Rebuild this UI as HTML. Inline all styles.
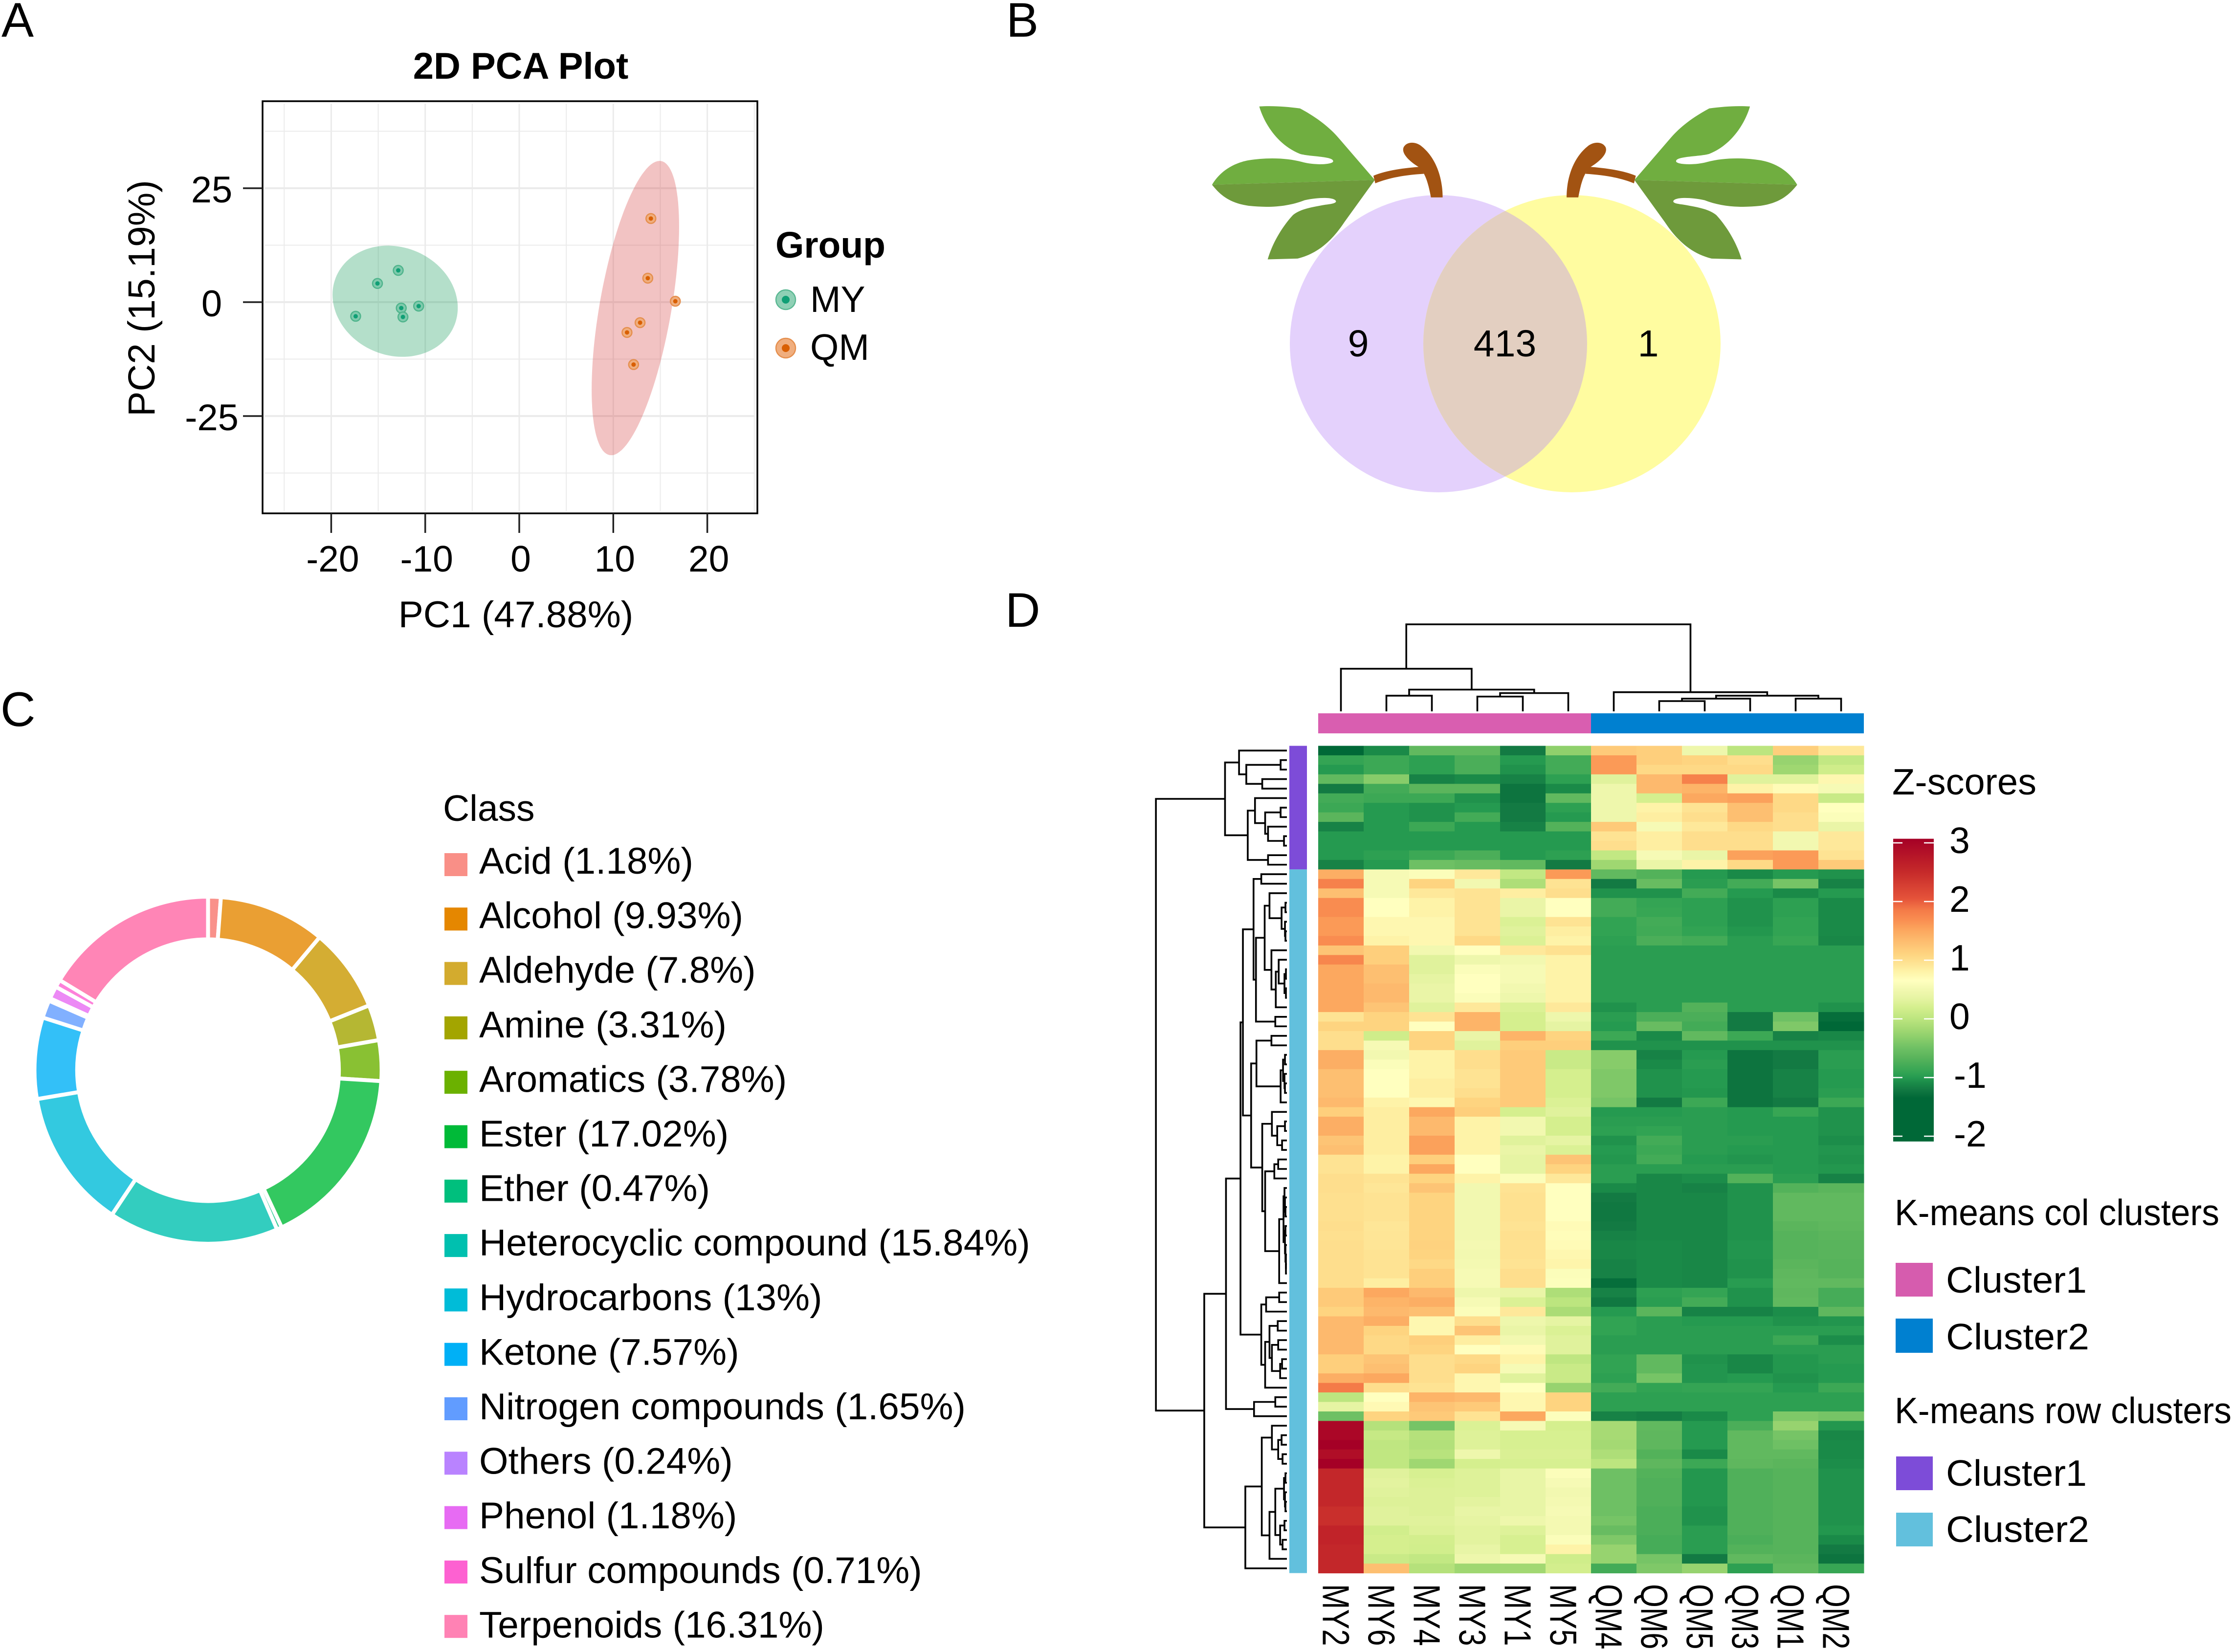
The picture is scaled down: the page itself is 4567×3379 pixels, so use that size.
<!DOCTYPE html>
<html lang="en">
<head>
<meta charset="utf-8">
<title>Metabolomics multi-panel figure</title>
<style>
html,body{margin:0;padding:0;background:#fff}
svg{display:block}
text{font-family:"Liberation Sans",sans-serif;fill:#000}
</style>
</head>
<body>
<svg id="fig" xmlns="http://www.w3.org/2000/svg" width="4567" height="3379" viewBox="0 0 4567 3379">
<rect width="4567" height="3379" fill="#fff"/>
<text x="3" y="75" font-size="99">A</text>
<text x="2058" y="75" font-size="99">B</text>
<text x="1" y="1485" font-size="99">C</text>
<text x="2056" y="1282" font-size="99">D</text>

<g id="pca">
  <text x="1065" y="161" font-size="76" font-weight="700" text-anchor="middle">2D PCA Plot</text>
  <text x="1055" y="1283" font-size="76.5" text-anchor="middle">PC1 (47.88%)</text>
  <text transform="translate(316,610) rotate(-90)" font-size="77" text-anchor="middle">PC2 (15.19%)</text>
  <text x="1586" y="527" font-size="75" font-weight="700">Group</text>
  <text x="1657" y="638" font-size="75">MY</text>
  <text x="1657" y="736" font-size="75">QM</text>
</g>

<g id="venn">
  <defs><clipPath id="venn-clip"><circle cx="2942" cy="703" r="304"/></clipPath></defs>
  <circle cx="2942" cy="703" r="304" fill="#e4d1fc"/>
  <circle cx="3215" cy="703" r="304" fill="#fffca0"/>
  <circle cx="3215" cy="703" r="304" fill="#e3cfc1" clip-path="url(#venn-clip)"/>
  <g transform="translate(2300,150) scale(0.95667,0.57398)">
    <g id="leaf-left">
      <path d="M655,442 C650,400 645,360 630,335 C610,315 590,285 597,262 C605,240 625,245 635,260 C665,300 680,370 680,442 Z" fill="#a25312"/>
      <path d="M532,365 C560,345 600,337 632,333 L640,358 C600,362 565,372 536,392 Z" fill="#a25312"/>
      <path d="M535,380 L460,235 C445,205 420,165 375,125 C345,118 315,115 288,118 C295,160 320,250 375,287 C395,297 446,295 446,313 C446,326 405,328 380,316 C345,300 300,300 265,310 C225,322 200,360 187,397 Z" fill="#70ae40"/>
      <path d="M187,397 L535,380 L470,530 C450,580 420,640 370,660 L306,663 C315,610 335,550 360,505 C375,485 395,478 430,468 C445,465 452,462 452,456 C450,442 420,440 385,452 C350,475 310,480 265,472 C225,462 205,435 187,397 Z" fill="#6e9a3b"/>
    </g>
    <g id="leaf-right" transform="translate(1625,0) scale(-1,1)">
      <path d="M655,442 C650,400 645,360 630,335 C610,315 590,285 597,262 C605,240 625,245 635,260 C665,300 680,370 680,442 Z" fill="#a25312"/>
      <path d="M532,365 C560,345 600,337 632,333 L640,358 C600,362 565,372 536,392 Z" fill="#a25312"/>
      <path d="M535,380 L460,235 C445,205 420,165 375,125 C345,118 315,115 288,118 C295,160 320,250 375,287 C395,297 446,295 446,313 C446,326 405,328 380,316 C345,300 300,300 265,310 C225,322 200,360 187,397 Z" fill="#70ae40"/>
      <path d="M187,397 L535,380 L470,530 C450,580 420,640 370,660 L306,663 C315,610 335,550 360,505 C375,485 395,478 430,468 C445,465 452,462 452,456 C450,442 420,440 385,452 C350,475 310,480 265,472 C225,462 205,435 187,397 Z" fill="#6e9a3b"/>
    </g>
  </g>
  <text x="2778" y="729" font-size="77" text-anchor="middle">9</text>
  <text x="3078" y="729" font-size="77" text-anchor="middle">413</text>
  <text x="3371" y="729" font-size="77" text-anchor="middle">1</text>
</g>

<g id="donut"></g>
<g id="donut-legend">
  <text x="906" y="1679" font-size="75">Class</text>
</g>

<g id="heat"></g>
<g id="heat-legend">
  <text x="3870" y="1625" font-size="75" textLength="295" lengthAdjust="spacingAndGlyphs">Z-scores</text>
  <text x="3875" y="2506" font-size="75" textLength="664" lengthAdjust="spacingAndGlyphs">K-means col clusters</text>
  <rect x="3877" y="2583" width="76" height="69" fill="#d65cae"/>
  <text x="3980" y="2644" font-size="75" textLength="288" lengthAdjust="spacingAndGlyphs">Cluster1</text>
  <rect x="3877" y="2697" width="76" height="70" fill="#0080d0"/>
  <text x="3980" y="2760" font-size="75" textLength="293" lengthAdjust="spacingAndGlyphs">Cluster2</text>
  <text x="3875" y="2911" font-size="75" textLength="689" lengthAdjust="spacingAndGlyphs">K-means row clusters</text>
  <rect x="3878" y="2979" width="75" height="69" fill="#7d4cd8"/>
  <text x="3980" y="3039" font-size="75" textLength="288" lengthAdjust="spacingAndGlyphs">Cluster1</text>
  <rect x="3878" y="3094" width="75" height="69" fill="#62c0dd"/>
  <text x="3980" y="3154" font-size="75" textLength="293" lengthAdjust="spacingAndGlyphs">Cluster2</text>
</g>
</svg>

<script>
/* ---------- PCA data ---------- */
const pcaTicksX = [-20, -10, 0, 10, 20];
const pcaTicksY = [25, 0, -25];
const pcaGridX = [-25, -20, -15, -10, -5, 0, 5, 10, 15, 20, 25];
const pcaGridY = [37.5, 25, 12.5, 0, -12.5, -25, -37.5];
const myPC1 = [-12.87, -15.08, -17.4, -12.55, -12.37, -10.7];
const myPC2 = [6.97, 4.1, -3.1, -1.3, -3.25, -0.87];
const qmPC1 = [14.0, 13.67, 16.6, 12.85, 11.46, 12.16];
const qmPC2 = [18.35, 5.26, 0.2, -4.5, -6.65, -13.7];
/* ellipse: mean PC1, mean PC2, sd-scale PC1, sd-scale PC2, correlation */
const myEllipse = [-13.2, 0.2, 6.66, 12.2, -0.117];
const qmEllipse = [12.35, -1.3, 4.65, 32.3, 0.553];

/* ---------- Donut data ---------- */
const classNames = ["Acid","Alcohol","Aldehyde","Amine","Aromatics","Ester","Ether","Heterocyclic compound","Hydrocarbons","Ketone","Nitrogen compounds","Others","Phenol","Sulfur compounds","Terpenoids"];
const classPercents = [1.18, 9.93, 7.8, 3.31, 3.78, 17.02, 0.47, 15.84, 13, 7.57, 1.65, 0.24, 1.18, 0.71, 16.31];
const classColors = ["#f8766d","#e58700","#c99800","#a3a500","#6bb100","#00ba38","#00bf7d","#00c0af","#00bcd8","#00b0f6","#619cff","#b983ff","#e76bf3","#fd61d1","#ff67a4"];

/* ---------- Heatmap data ---------- */
const heatCols = ["MY2","MY6","MY4","MY3","MY1","MY5","QM4","QM6","QM5","QM3","QM1","QM2"];
const zTicks = [3, 2, 1, 0, -1, -2];
const zStops = [3.1, 2.5, 2.05, 1.85, 1.7, 1.5, 1.3, 1.1, 0.95, 0.8, 0.65, 0.5, 0.35, 0.2, 0, -0.15, -0.3, -0.5, -0.65, -0.8, -0.92, -1, -1.1, -1.2, -1.35, -2.1];
const zColors = ["#a50026","#c62a2a","#e5533a","#f47b48","#f98c50","#fca85f","#fdbf71","#fed480","#fee393","#fef3a8","#ffffbf","#f2f8b0","#e6f4a3","#d5ef8e","#bce57f","#a7da74","#8fd06c","#6ec064","#5bb55c","#43ab57","#31a353","#259a50","#1a8a48","#137a43","#006837","#006837"];
const heatRowsCluster1 = [
[-1.35,-1.1,-.6,-.6,-1.2,-.3,1.2,1.15,.45,0,1.15,.9],
[-.9,-.85,-.95,-.75,-1,-.8,1.6,1.15,1.1,1,-.25,.05],
[-1,-.85,-.95,-.75,-1.05,-.8,1.6,1.05,1.05,1.05,-.2,.15],
[-.6,-.35,-1.15,-1.1,-1.15,-.95,.3,1.35,1.8,.3,.3,.75],
[-1.2,-.8,-.65,-.65,-1.25,-1.1,.45,1.35,1.4,.8,.7,.55],
[-.8,-.85,-.85,-1.05,-1.25,-.6,.45,.2,1.5,1.55,1.05,.1],
[-.85,-1,-1.05,-1,-1.2,-.95,.45,.8,.95,1.3,1.05,.65],
[-.65,-1,-1.05,-.8,-1.2,-1,.45,.85,1,1.3,1,.6],
[-1.15,-1,-.85,-1,-1.15,-.7,1.2,.55,.9,1.05,1,.4],
[-1,-1,-1,-1,-1,-1,.95,.85,1,1,.5,.9],
[-1,-1,-1,-1,-1,-1,1,.85,1,1,.5,.9],
[-1,-.95,-.85,-.75,-1,-.95,.05,.55,.4,1.55,1.6,.95],
[-1.15,-1,-.5,-.55,-.6,-1.2,-.2,.4,.8,1.05,1.6,1.2]
];
const heatRowsCluster2 = [
[1.45,.55,.6,.9,.05,1.6,-.6,-.7,-1,-1.1,-1,-1.05],
[1.8,.55,1.1,.5,-.1,.95,-1.2,-.55,-.97,-.8,-.45,-1.15],
[1.3,.55,.9,.95,.85,1,-1.05,-1.05,-.8,-1,-1.1,-1],
[1.7,.65,.8,.95,.4,.65,-.8,-.9,-.95,-1.05,-.95,-1.1],
[1.7,.65,.8,.95,.4,.65,-.8,-.88,-.95,-1.05,-.95,-1.1],
[1.6,.75,.75,.95,.25,.95,-.92,-.8,-.95,-1.05,-.92,-1.1],
[1.6,.75,.75,.95,.3,.85,-.92,-.82,-.92,-1.02,-.92,-1.1],
[1.7,.8,.75,1.05,.25,.8,-.95,-.75,-.8,-.97,-.88,-1.12],
[1.25,1.15,.5,.65,.9,.97,-.97,-.97,-.97,-.97,-.97,-.97],
[1.75,1.15,.3,.45,.5,.8,-.97,-.97,-.97,-.97,-.97,-.97],
[1.5,1.3,.3,.6,.55,.8,-.97,-.97,-.97,-.97,-.97,-.97],
[1.5,1.3,.35,.65,.55,.8,-.97,-.97,-.97,-.97,-.97,-.97],
[1.5,1.35,.4,.65,.5,.8,-.97,-.97,-.97,-.97,-.97,-.97],
[1.5,1.35,.4,.6,.45,.8,-.97,-.97,-.97,-.97,-.97,-.97],
[1.5,1.25,.3,.9,.25,.9,-1.05,-.97,-.7,-.97,-.97,-1.05],
[.95,1.1,.95,1.4,.2,.45,-.97,-.75,-.75,-1.2,-.5,-1.3],
[1.1,1.1,.65,1.4,.2,.35,-1,-.55,-.8,-1.2,-.4,-1.38],
[1,.15,1.1,.4,1.4,1.1,-.85,-1.1,-.6,-.85,-1.15,-1.12],
[1,.55,1.1,.3,1.15,1.15,-1.05,-1.05,-1.05,-1.05,-1.05,-1.05],
[1.45,.5,.8,1,1.2,.1,-.35,-1.15,-1,-1.25,-1.2,-.97],
[1.45,.6,.8,1,1.2,.1,-.35,-1.1,-.97,-1.25,-1.2,-.97],
[1.3,.65,.8,.95,1.2,.2,-.4,-1.05,-1,-1.25,-1.15,-1],
[1.3,.65,.85,.95,1.2,.2,-.4,-1.05,-1,-1.25,-1.15,-1],
[1.3,.65,.85,1,1.2,.2,-.4,-1.05,-1.02,-1.25,-1.15,-.97],
[1.35,.8,.75,1.1,1.2,.25,-.45,-1.2,-.85,-1.25,-1.2,-.85],
[1.15,.85,1.5,1.15,.2,.3,-1,-1,-.97,-1,-.88,-1.05],
[1.45,.85,1.35,.8,.5,.2,-.97,-.97,-.97,-1,-1,-1.05],
[1.45,.85,1.35,.8,.5,.2,-.95,-.92,-.97,-1,-1,-1.05],
[1.25,.85,1.55,.8,.3,.35,-1.05,-.8,-.97,-.97,-1,-1.08],
[1.3,.85,1.55,.8,.4,.25,-1,-.85,-.97,-1,-1,-1.03],
[.95,.8,1.15,.65,.35,1.25,-1.02,-.8,-1,-1.03,-1,-1.05],
[.95,.8,1.5,.65,.35,1.1,-.97,-.97,-.97,-.97,-1,-1.02],
[1,.95,1.1,.8,.6,.9,-.97,-1.12,-1.08,-.7,-.97,-1.15],
[1,.92,1.25,.5,.95,.65,-1.1,-1.12,-1.15,-1.05,-.7,-.65],
[.98,.95,1.1,.5,.97,.65,-1.2,-1.12,-1.12,-1.05,-.6,-.6],
[.98,.95,1.1,.5,.97,.65,-1.22,-1.12,-1.12,-1.05,-.6,-.6],
[.98,.95,1.1,.5,.97,.65,-1.22,-1.12,-1.12,-1.05,-.6,-.6],
[1,.92,1.1,.5,.95,.7,-1.2,-1.12,-1.12,-1.05,-.65,-.62],
[.98,.93,1.1,.5,.98,.68,-1.15,-1.12,-1.12,-1.05,-.68,-.65],
[1,.93,1.12,.52,.97,.7,-1.12,-1.1,-1.12,-1.03,-.68,-.66],
[1,.95,1.1,.5,.97,.75,-1.12,-1.1,-1.12,-1.03,-.68,-.66],
[1,.95,1.05,.52,.95,.78,-1.15,-1.1,-1.12,-1.05,-.65,-.68],
[1,.95,1.15,.55,1,.6,-1.15,-1.1,-1.12,-1.05,-.62,-.68],
[1,.85,1.15,.55,1,.62,-1.3,-1.1,-1.12,-.98,-.6,-.6],
[1.2,1.5,1.35,.45,.4,-.1,-1.15,-.95,-.9,-1.05,-.62,-.78],
[1.2,1.4,1.45,.55,.25,0,-1.22,-.97,-.8,-1.05,-.6,-.78],
[1.1,1.35,1.3,.6,.9,-.12,-1,-.65,-1.15,-1.15,-1.08,-.62],
[1.35,1.45,.75,1,.45,.35,-.92,-.97,-1,-1,-1.05,-1.03],
[1.35,1.1,.75,1.25,.4,.25,-.92,-.97,-.97,-.97,-.97,-.97],
[1.35,1.05,1.15,.85,.5,.3,-.97,-.97,-.97,-.97,-.85,-1.08],
[1.35,1.05,1.1,.65,.7,.3,-.97,-.97,-.97,-.97,-.97,-.97],
[1.15,1.25,1,1.05,.8,.02,-.92,-.6,-1.05,-1.12,-1.02,-.97],
[1.15,1.3,1,1.1,.55,.1,-.92,-.6,-1.03,-1.12,-1.02,-1],
[1.45,1.5,1,.75,.3,.1,-.95,-.45,-1.03,-1,-1.05,-1],
[1.85,1,.95,.75,.65,-.25,-.8,-.92,-.9,-.9,-1,-.85],
[0,.65,1.4,1.35,.75,1.1,-.95,-.95,-.95,-.95,-.95,-.95],
[.35,.72,1.25,1.2,.75,1.1,-.95,-.95,-.95,-.95,-.95,-.95],
[-.5,1.1,1.2,.95,1.5,.62,-1.15,-1.18,-1.1,-.95,-.4,-.45],
[3,-.05,-.45,.25,.55,.2,-.15,-.6,-1,-.75,-.25,-1.02],
[3,.08,-.05,.28,.22,.22,-.15,-.62,-1,-.6,-.45,-1.12],
[3.1,.02,-.07,.28,.22,.22,-.17,-.62,-1,-.6,-.5,-1.1],
[2.9,.03,-.03,.45,.24,.24,-.1,-.7,-1.1,-.6,-.6,-1.1],
[3.1,.03,-.2,.2,.22,.22,0,-.62,-.85,-.62,-.65,-1.08],
[2.55,.3,.22,.28,.38,.6,-.5,-.7,-1.02,-.72,-.68,-1.05],
[2.55,.32,.25,.28,.38,.55,-.5,-.72,-1.02,-.72,-.68,-1.05],
[2.55,.3,.27,.28,.38,.5,-.5,-.72,-1.02,-.72,-.68,-1.05],
[2.55,.27,.27,.32,.38,.52,-.5,-.72,-1.02,-.72,-.68,-1.05],
[2.45,.3,.27,.38,.38,.55,-.5,-.75,-1.05,-.72,-.68,-1.05],
[2.45,.3,.3,.35,.45,.52,-.45,-.75,-1.05,-.72,-.68,-1.05],
[2.6,.17,.27,.32,.28,.52,-.55,-.75,-.97,-.72,-.68,-1.02],
[2.6,.2,.18,.32,.22,.6,-.4,-.78,-.97,-.75,-.68,-1.1],
[2.55,.2,.17,.38,.22,.8,-.25,-.78,-.97,-.7,-.68,-1.2],
[2.55,.1,.05,.45,.55,.15,-.25,-.45,-1.2,-.6,-.65,-1.25],
[2.55,1.3,-.05,-.2,-.18,.18,-.8,-.4,-.25,-.95,-.6,-.88]
];
/* merge trees: [height, leftChild, rightChild], 0 = leaf */
const colTree = [1,[.49,0,[.25,[.18,0,0],[.21,[.17,0,0],0]]],[.22,0,[.18,[.146,[.118,0,0],0],[.146,0,0]]]];
const rowTreeCluster1 = [128,[99,0,[84,[13,0,0],[51,0,0]]],[81,[66,0,[45,[13,0,0],[39,0,[6,0,0]]]],[39,0,0]]];
const rowTreeBranchA = [69,[53,0,0],[64,[46,[36,0,[11,[3,0,0],[4,0,[3,0,0]]]],[32,0,[23,[17,0,[5,[2,0,0],[2,0,0]]],0]]],[24,0,0]]];
const rowTreeBranchB = [74,[63,[32,0,0],[13,[8,[4,0,0],[5,0,[4,0,0]]],0]],[51,[31,0,[20,[4,0,0],[10,0,0]]],[45,[26,[18,0,0],0],[16,[7,[5,0,[4,0,[3,0,0]]],[4,[3,0,0],[3,0,[2,0,[2,0,0]]]]],0]]]];
const rowTreeBranchC = [53,[43,[16,0,0],0],[45,[36,[19,0,0],[31,[18,0,0],[14,[10,0,0],0]]],0]];
const rowTreeBranchD = [68,[24,0,0],0];
const rowTreeBranchE = [86,[52,[31,0,[18,[11,0,0],[9,0,0]]],[36,[24,[6,[3,0,0],[4,0,[3,0,0]]],[14,[5,0,0],[9,0,0]]],0]],0];
const rowTree = [271,rowTreeCluster1,[171,[126,[96,[91,rowTreeBranchA,rowTreeBranchB],rowTreeBranchC],rowTreeBranchD],rowTreeBranchE]];

/* ---------- helpers ---------- */
const NS = "http://www.w3.org/2000/svg";
function make(tag, attrs, parent, txt) {
  const n = document.createElementNS(NS, tag);
  for (const k in attrs) n.setAttribute(k, attrs[k]);
  if (txt !== undefined) n.textContent = txt;
  parent.appendChild(n);
  return n;
}
function hexRgb(h) { return [1, 3, 5].map(i => parseInt(h.substr(i, 2), 16)); }
function zColor(v) {
  if (v >= zStops[0]) return zColors[0];
  for (let i = 1; i < zStops.length; i++) {
    if (v >= zStops[i]) {
      const t = (v - zStops[i]) / (zStops[i - 1] - zStops[i]);
      const a = hexRgb(zColors[i]), b = hexRgb(zColors[i - 1]);
      return "rgb(" + a.map((c, j) => Math.round(c + (b[j] - c) * t)).join(",") + ")";
    }
  }
  return zColors[zColors.length - 1];
}

/* ---------- Panel A ---------- */
(function () {
  const g = document.getElementById("pca");
  const L = 537, R = 1549, T = 207, B = 1050;
  const sx = v => 1062 + v * 19.23;
  const sy = v => 618 - v * 9.32;
  pcaGridX.forEach(v => {
    const el = make("line", { x1: sx(v), x2: sx(v), y1: T + 5, y2: B - 5, stroke: "#ebebeb", "stroke-width": pcaTicksX.includes(v) ? 3 : 2 }, g);
    
    
  });
  pcaGridY.forEach(v => {
    const el = make("line", { x1: L + 5, x2: R - 5, y1: sy(v), y2: sy(v), stroke: "#ebebeb", "stroke-width": pcaTicksY.includes(v) ? 4 : 2 }, g);
    
    
  });
  function ellipsePath(p) {
    let d = "";
    const phi = Math.acos(p[4]);
    for (let k = 0; k < 120; k++) {
      const t = k / 120 * 2 * Math.PI;
      const x = p[0] + p[2] * Math.cos(t);
      const y = p[1] + p[3] * Math.cos(t - phi);
      d += (k ? "L" : "M") + sx(x).toFixed(1) + "," + sy(y).toFixed(1);
    }
    return d + "Z";
  }
  const e1 = make("path", { d: ellipsePath(myEllipse), fill: "#1b9e5e", "fill-opacity": .33 }, g);
  
  
  const e2 = make("path", { d: ellipsePath(qmEllipse), fill: "#d84949", "fill-opacity": .33 }, g);
  
  
  function dot(px, py, r, ri, outer, line, inner, name) {
    const o = make("circle", { cx: px, cy: py, r: r, fill: outer, stroke: line, "stroke-width": 2.5 }, g);
    
    
    const c = make("circle", { cx: px, cy: py, r: ri, fill: inner }, g);
    
    
  }
  myPC1.forEach((v, i) => dot(sx(v), sy(myPC2[i]), 10, 4.5, "#7fcaac", "#4fb48c", "#109f75", "my-point"));
  qmPC1.forEach((v, i) => dot(sx(v), sy(qmPC2[i]), 10, 4.5, "#f0ae7e", "#e58f4e", "#d95f02", "qm-point"));
  dot(1607, 613, 20, 8, "#8fd0b5", "#5bb893", "#109f75", "legend-marker-my");
  dot(1607, 712, 20, 8, "#f0ae7e", "#e58f4e", "#d95f02", "legend-marker-qm");
  const box = make("rect", { x: L, y: T, width: R - L, height: B - T, fill: "none", stroke: "#000", "stroke-width": 3.5 }, g);
  
  
  pcaTicksX.forEach(v => {
    const t = make("line", { x1: sx(v), x2: sx(v), y1: B, y2: B + 40, stroke: "#222", "stroke-width": 3.5 }, g);
    
    
    const l = make("text", { x: sx(v) + 3, y: 1169, "font-size": 75, "text-anchor": "middle" }, g, String(v));
    
    
  });
  pcaTicksY.forEach(v => {
    const t = make("line", { x1: L - 40, x2: L, y1: sy(v), y2: sy(v), stroke: "#222", "stroke-width": 3.5 }, g);
    
    
    const l = make("text", { x: 433, y: sy(v) + 29, "font-size": 76, "text-anchor": "middle" }, g, String(v));
    
    
  });
})();

/* ---------- Panel C ---------- */
(function () {
  const g = document.getElementById("donut");
  const lg = document.getElementById("donut-legend");
  const cx = 425.5, cy = 2189, ro = 355, ri = 267.6;
  const total = classPercents.reduce((a, b) => a + b, 0);
  let acc = 0;
  const pt = (r, a) => (cx + r * Math.sin(a)).toFixed(2) + "," + (cy - r * Math.cos(a)).toFixed(2);
  classPercents.forEach((p, i) => {
    const a0 = acc / total * 2 * Math.PI;
    acc += p;
    const a1 = acc / total * 2 * Math.PI;
    const large = a1 - a0 > Math.PI ? 1 : 0;
    const d = "M" + pt(ro, a0) + "A" + ro + "," + ro + " 0 " + large + " 1 " + pt(ro, a1) + "L" + pt(ri, a1) + "A" + ri + "," + ri + " 0 " + large + " 0 " + pt(ri, a0) + "Z";
    const slice = make("path", { d: d, fill: classColors[i], "fill-opacity": .8, stroke: "#fff", "stroke-width": 8 }, g);
    
    
    const light = i === 0 || i === 2 || i === 14;
    const sw = make("rect", { x: 909, y: 1745 + i * 111.3, width: 47, height: 47, fill: classColors[i], "fill-opacity": light ? .82 : 1 }, lg);
    
    
    const t = make("text", { x: 980, y: 1787 + i * 111.6, "font-size": 76.5 }, lg, classNames[i] + " (" + p + "%)");
    
    
  });
})();

/* ---------- Panel D ---------- */
(function () {
  const g = document.getElementById("heat");
  const lg = document.getElementById("heat-legend");
  const rows = heatRowsCluster1.concat(heatRowsCluster2);
  const X0 = 2696, CW = 93, Y0 = 1525.5, RH = (3217.6 - 1525.5) / rows.length;
  rows.forEach((row, r) => {
    row.forEach((v, c) => {
      const cell = make("rect", { x: X0 + c * CW, y: (Y0 + r * RH).toFixed(2), width: CW + .5, height: (RH + .5).toFixed(2), fill: zColor(v) }, g);
      
      
    });
  });
  /* annotation bars */
  const n1 = heatRowsCluster1.length, firstCols = 6;
  const bars = [
    [X0, 1459, firstCols * CW, 41, "#d95eb0", "col-annotation-cluster1"],
    [X0 + firstCols * CW, 1459, (heatCols.length - firstCols) * CW, 41, "#0080d0", "col-annotation-cluster2"],
    [2637, Y0, 36, n1 * RH, "#7d4cd8", "row-annotation-cluster1"],
    [2637, Y0 + n1 * RH, 36, heatRowsCluster2.length * RH, "#62c0dd", "row-annotation-cluster2"]
  ];
  bars.forEach(b => {
    const el = make("rect", { x: b[0], y: b[1], width: b[2], height: b[3], fill: b[4] }, g);
    
    
  });
  /* dendrograms */
  let leaf = 0;
  function drawRow(n) {
    if (!n) { const y = Y0 + (leaf++ + .5) * RH; return { p: y, h: 0 }; }
    const a = drawRow(n[1]), b = drawRow(n[2]);
    const sx = h => 2632 - h / 1.0116;
    const d = "M" + sx(a.h) + "," + a.p + "H" + sx(n[0]) + "V" + b.p + "H" + sx(b.h);
    const el = make("path", { d: d, fill: "none", stroke: "#000", "stroke-width": 3.6 }, g);
    
    
    return { p: (a.p + b.p) / 2, h: n[0] };
  }
  drawRow(rowTree);
  leaf = 0;
  function drawCol(n) {
    if (!n) { const x = X0 + (leaf++ + .5) * CW; return { p: x, h: 0 }; }
    const a = drawCol(n[1]), b = drawCol(n[2]);
    const sy = h => 1455 - h * 178;
    const d = "M" + a.p + "," + sy(a.h) + "V" + sy(n[0]) + "H" + b.p + "V" + sy(b.h);
    const el = make("path", { d: d, fill: "none", stroke: "#000", "stroke-width": 3.6 }, g);
    
    
    return { p: (a.p + b.p) / 2, h: n[0] };
  }
  drawCol(colTree);
  /* column labels */
  heatCols.forEach((name, c) => {
    const t = make("text", { transform: "translate(" + (X0 + (c + .5) * CW - 37) + ",3240) rotate(90) scale(.8,1)", "font-size": 77 }, g, name);
    
    
  });
  /* colour bar */
  const zy = v => 2084 - v * 120;
  const barTop = zy(3.07), barBottom = zy(-2.09);
  const defs = make("defs", {}, lg);
  const grad = make("linearGradient", { id: "z-grad", x1: 0, y1: 0, x2: 0, y2: 1 }, defs);
  zStops.forEach((v, i) => {
    const off = (zy(v) - barTop) / (barBottom - barTop);
    make("stop", { offset: Math.min(1, Math.max(0, off)).toFixed(4), "stop-color": zColors[i] }, grad);
  });
  const bar = make("rect", { x: 3872, y: barTop, width: 83, height: barBottom - barTop, fill: "url(#z-grad)" }, lg);
  
  
  zTicks.forEach(v => {
    [[3872, 3891], [3935, 3955]].forEach(s => {
      const t = make("line", { x1: s[0], x2: s[1], y1: zy(v), y2: zy(v), stroke: "#fff", "stroke-width": 2.5 }, lg);
      
      
    });
    const l = make("text", { x: v < 0 ? 3996 : 3987, y: zy(v) + 21, "font-size": 75 }, lg, String(v));
    
    
  });
})();
</script>
</body>
</html>
